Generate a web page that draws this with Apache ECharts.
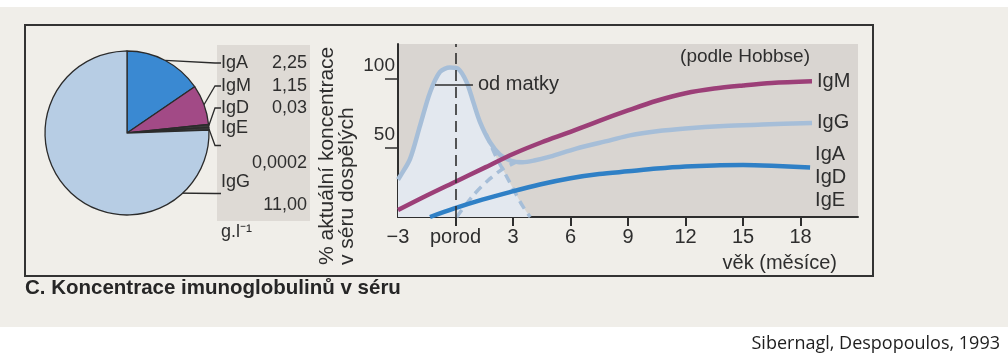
<!DOCTYPE html>
<html>
<head>
<meta charset="utf-8">
<script src="https://cdn.jsdelivr.net/npm/echarts@6/dist/echarts.min.js"></script>
<style>
  html, body { margin: 0; padding: 0; background: #ffffff; }
  #chart { width: 1008px; height: 362px; }
</style>
</head>
<body>
<div id="chart"></div>
<script>
// Serum immunoglobulin concentrations in adults (g/l)
const pieNames = ['IgA', 'IgM', 'IgD', 'IgE', 'IgG'];
const pieValues = [2.25, 1.15, 0.03, 0.0002, 11.00];
const pieValueText = ['2,25', '1,15', '0,03', '0,0002', '11,00'];
const pieColors = ['#3a89d2', '#a24a86', '#3b3b3b', '#3b3b3b', '#b7cde4'];

// Age axis in months, birth = 0
const xTickValues = [0, 3, 6, 9, 12, 15, 18];
const xLabelValues = [-3, 0, 3, 6, 9, 12, 15, 18];
const xLabelText = { '-3': '−3', '0': 'porod' };
const yTickValues = [50, 100];

// Curves as [month, % of adult serum level]
const igM = [[-3, 5], [-1.5, 15.5], [0, 25.5], [1.5, 35.5], [3, 45.5], [4.5, 54], [6, 61.5],
  [7.5, 69.5], [9, 77], [10.5, 84], [12, 89.4], [13.5, 92.8], [15, 95], [16.5, 96.8], [18.6, 98]];
const igG = [[-3, 27], [-2.86, 30], [-2.37, 42], [-1.85, 66], [-1.33, 90], [-0.81, 104.8],
  [-0.29, 108], [0.15, 107], [0.58, 97.5], [0.93, 83], [1.28, 68.6], [1.8, 54], [2.32, 45],
  [2.9, 40.6], [3.5, 39.6], [4.1, 40.8], [4.93, 43.6], [6.3, 49.4], [8.06, 55.4], [9.1, 59],
  [10.5, 62], [12, 64], [14, 65.8], [16, 66.8], [18.6, 68]];
const igGMaternal = [[1.6, 60], [2.1, 44], [2.6, 31], [3.1, 18], [3.5, 8], [3.9, 0]];
const igGOwn = [[0.06, 0], [0.93, 15.7], [1.8, 27.7], [2.5, 35], [3.2, 40]];
const maternalArea = [[-3, 27], [-2.86, 30], [-2.37, 42], [-1.85, 66], [-1.33, 90], [-0.81, 104.8],
  [-0.29, 108], [0.15, 107], [0.58, 97.5], [0.93, 83], [1.28, 68.6], [1.6, 60], [2.1, 44],
  [2.6, 31], [3.1, 18], [3.5, 8], [3.9, 0]];
const igA = [[-1.33, 0], [-0.1, 6], [1.4, 12.5], [2.84, 18], [4.4, 23.5], [6, 28], [7.5, 31],
  [9, 33], [10.5, 35], [12, 36.5], [13.5, 37.3], [15, 37.5], [16.5, 37], [18.5, 35.8]];
const lowGroupNames = ['IgA', 'IgD', 'IgE'];
const maternalMark = [[-1.07, 95.7], [0.91, 95.7]];

const FONT = 'Liberation Sans, Arial, sans-serif';
const INK = '#2e2e2e';
const LIGHT_BLUE = '#a6bed8';

const chart = echarts.init(document.getElementById('chart'), null, { renderer: 'canvas' });

// Pie label rows (top of each label block)
const pieLabelTop = [52, 75, 97, 117, 171];

function pieLabel(p) {
  const i = p.dataIndex;
  if (i === 3) return '{n|' + pieNames[i] + '}\n{w|' + pieValueText[i] + '}';
  if (i === 4) return '{n|' + pieNames[i] + '}\n{u|' + pieValueText[i] + '}';
  return '{n|' + pieNames[i] + '}{v|' + pieValueText[i] + '}';
}

const option = {
  animation: false,
  backgroundColor: '#ffffff',
  textStyle: { fontFamily: FONT, color: INK },
  graphic: [
    // scanned page
    { type: 'rect', silent: true, z: -20, shape: { x: 0, y: 7, width: 1008, height: 320 },
      style: { fill: '#f0eee9' } },
    // panel behind the pie values
    { type: 'rect', silent: true, z: -10, shape: { x: 217, y: 45, width: 93, height: 176 },
      style: { fill: '#dedad5' } },
    // figure frame
    { type: 'rect', silent: true, z: 5, shape: { x: 25, y: 25, width: 848, height: 251 },
      style: { fill: 'none', stroke: '#333333', lineWidth: 2 } },
    { type: 'text', silent: true, z: 5, x: 25, y: 288,
      style: { text: 'C. Koncentrace imunoglobulinů v séru', font: 'bold 20.5px ' + FONT,
        fill: '#262626', verticalAlign: 'middle', align: 'left' } },
    { type: 'text', silent: true, z: 5, x: 317, y: 265, rotation: Math.PI / 2,
      style: { text: '% aktuální koncentrace\nv séru dospělých', font: '21px ' + FONT,
        lineHeight: 20, fill: INK, align: 'left', verticalAlign: 'top' } },
    { type: 'text', silent: true, z: 5, x: 837, y: 263,
      style: { text: 'věk (měsíce)', font: '20px ' + FONT, fill: INK,
        align: 'right', verticalAlign: 'middle' } },
    { type: 'text', silent: true, z: 5, x: 810, y: 57,
      style: { text: '(podle Hobbse)', font: '19px ' + FONT, fill: INK,
        align: 'right', verticalAlign: 'middle' } },
    { type: 'text', silent: true, z: 5, x: 221, y: 232,
      style: { text: 'g.l⁻¹', font: '18px ' + FONT, fill: INK,
        align: 'left', verticalAlign: 'middle' } },
    { type: 'text', silent: true, z: 5, x: 1000, y: 344,
      style: { text: 'Sibernagl, Despopoulos, 1993', font: '18px Open Sans, sans-serif',
        fill: '#1e1e1e', align: 'right', verticalAlign: 'middle' } }
  ],
  grid: {
    left: 398, top: 44, width: 460, height: 173,
    show: true, backgroundColor: '#d9d5d1', borderWidth: 0, containLabel: false
  },
  xAxis: {
    type: 'value', min: -3, max: 21, interval: 3,
    axisLine: { show: true, onZero: false, lineStyle: { color: INK, width: 2 } },
    axisTick: { show: true, customValues: xTickValues, length: 9, lineStyle: { color: INK, width: 2 } },
    axisLabel: {
      customValues: xLabelValues, margin: 10, fontSize: 20, color: INK, fontFamily: FONT,
      formatter: v => (xLabelText[String(v)] !== undefined ? xLabelText[String(v)] : String(v))
    },
    splitLine: { show: false }
  },
  yAxis: {
    type: 'value', min: 0, max: 125,
    axisLine: { show: true, onZero: false, lineStyle: { color: INK, width: 2 } },
    axisTick: { show: true, customValues: yTickValues, length: 13, lineStyle: { color: INK, width: 1.5 } },
    axisLabel: { customValues: yTickValues, margin: 3, fontSize: 19, lineHeight: 26, color: INK,
      fontFamily: FONT, verticalAlign: 'bottom' },
    splitLine: { show: false }
  },
  series: [
    {
      name: 'maternal-fill', type: 'line', data: maternalArea, smooth: 0.3, symbol: 'none',
      silent: true, z: 1,
      lineStyle: { width: 0, opacity: 0 },
      areaStyle: { color: '#e3e8ef', opacity: 1 },
      markLine: {
        silent: true, symbol: ['none', 'none'], animation: false, z: 6,
        label: { show: false },
        lineStyle: { color: INK, width: 1.6, type: [11, 6] },
        data: [{ xAxis: 0 }]
      }
    },
    {
      name: 'IgG-maternal', type: 'line', data: igGMaternal, smooth: 0.3, symbol: 'none', z: 2,
      lineStyle: { color: LIGHT_BLUE, width: 3.5, type: [9, 6] }
    },
    {
      name: 'IgG-own', type: 'line', data: igGOwn, smooth: 0.3, symbol: 'none', z: 2,
      lineStyle: { color: LIGHT_BLUE, width: 3.5, type: [9, 6] }
    },
    {
      name: 'IgG', type: 'line', data: igG, smooth: 0.3, symbol: 'none', z: 3,
      lineStyle: { color: LIGHT_BLUE, width: 4.5 },
      endLabel: { show: true, formatter: 'IgG', fontSize: 20, color: INK, distance: 5, fontFamily: FONT },
      markLine: {
        silent: true, symbol: ['none', 'none'], animation: false, z: 6,
        lineStyle: { color: INK, width: 1.6, type: 'solid' },
        label: { show: true, position: 'end', formatter: 'od matky', fontSize: 20, color: INK,
          distance: 5, fontFamily: FONT },
        data: [[{ coord: maternalMark[0] }, { coord: maternalMark[1] }]]
      }
    },
    {
      name: 'IgA', type: 'line', data: igA, smooth: 0.3, symbol: 'none', z: 4,
      lineStyle: { color: '#2f80c6', width: 4.5 },
      endLabel: { show: true, formatter: lowGroupNames.join('\n'), fontSize: 20, lineHeight: 23,
        color: INK, distance: 5, offset: [0, 10], fontFamily: FONT }
    },
    {
      name: 'IgM', type: 'line', data: igM, smooth: 0.3, symbol: 'none', z: 5,
      lineStyle: { color: '#9c3f78', width: 4.5 },
      endLabel: { show: true, formatter: 'IgM', fontSize: 20, color: INK, distance: 5, fontFamily: FONT }
    },
    {
      name: 'sérum', type: 'pie', center: [127, 133], radius: 82, startAngle: 90, clockwise: true,
      minAngle: 2, avoidLabelOverlap: false, silent: true, z: 3,
      emphasis: { disabled: true },
      itemStyle: { borderColor: '#2b2b2b', borderWidth: 1.3 },
      data: pieNames.map((n, i) => ({ name: n, value: pieValues[i], itemStyle: { color: pieColors[i] } })),
      label: {
        show: true, formatter: pieLabel, width: 86, color: INK, fontFamily: FONT,
        rich: {
          n: { fontSize: 18, lineHeight: 22, color: INK, align: 'left' },
          v: { fontSize: 18, lineHeight: 22, color: INK, align: 'right' },
          w: { fontSize: 18, lineHeight: 48, color: INK, align: 'right' },
          u: { fontSize: 18, lineHeight: 24, color: INK, align: 'right' }
        }
      },
      labelLine: { show: true, length: 6, length2: 6, lineStyle: { color: '#2b2b2b', width: 1.3 } },
      labelLayout: function (params) {
        return { x: 221, y: pieLabelTop[params.dataIndex], align: 'left', verticalAlign: 'top' };
      }
    }
  ]
};

chart.setOption(option);
</script>
</body>
</html>
